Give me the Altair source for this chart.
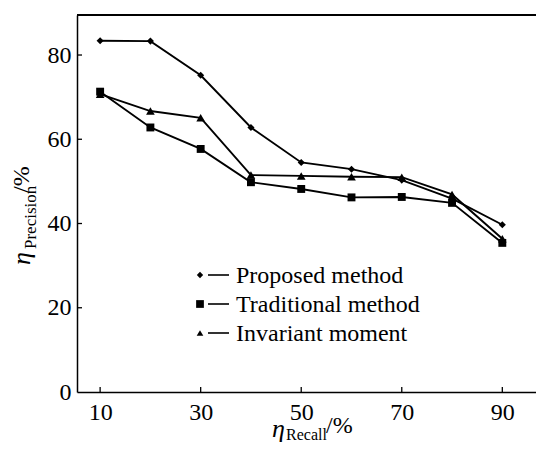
import altair as alt
import pandas as pd

recall = [10, 20, 30, 40, 50, 60, 70, 80, 90]
series_names = ["Proposed method", "Traditional method", "Invariant moment"]
proposed = [83.4, 83.3, 75.2, 62.8, 54.5, 52.9, 50.3, 45.9, 39.7]
traditional = [71.3, 62.8, 57.7, 49.8, 48.2, 46.2, 46.3, 44.9, 35.4]
invariant = [70.7, 66.7, 65.1, 51.5, 51.3, 51.1, 51.0, 46.9, 36.4]
x_ticks = [10, 30, 50, 70, 90]
y_ticks = [0, 20, 40, 60, 80]

rows = []
for name, vals in zip(series_names, [proposed, traditional, invariant]):
    for r, v in zip(recall, vals):
        rows.append({"series": name, "recall": r, "precision": v})
df = pd.DataFrame(rows)

W, H = 459, 377
FONT = "Liberation Serif"
shapes = ["diamond", "square", "triangle-up"]
sizes = [50, 75, 55]

xs = alt.Scale(domain=[5.4, 96.7], nice=False, zero=False)
ys = alt.Scale(domain=[0, 89.5], nice=False)

base = alt.Chart(df)

lines = base.mark_line(color="black", strokeWidth=1.9).encode(
    x=alt.X("recall:Q", scale=xs,
            axis=alt.Axis(values=x_ticks, ticks=False, tickSize=0, grid=False, title=None,
                          labelFont=FONT, labelFontSize=24, labelColor="black",
                          labelPadding=8, domainColor="black", domainWidth=1.5)),
    y=alt.Y("precision:Q", scale=ys,
            axis=alt.Axis(values=y_ticks, ticks=False, tickSize=0, grid=False, title=None,
                          labelFont=FONT, labelFontSize=24, labelColor="black",
                          labelPadding=6, domainColor="black", domainWidth=1.5)),
    detail="series:N",
)

points = base.mark_point(filled=True, color="black", opacity=1).encode(
    x=alt.X("recall:Q", scale=xs),
    y=alt.Y("precision:Q", scale=ys),
    shape=alt.Shape("series:N", scale=alt.Scale(domain=series_names, range=shapes), legend=None),
    size=alt.Size("series:N", scale=alt.Scale(domain=series_names, range=sizes), legend=None),
)

xtick_df = pd.DataFrame({"v": x_ticks})
ytick_df = pd.DataFrame({"v": y_ticks[1:]})
xticks = alt.Chart(xtick_df).mark_rule(color="black", strokeWidth=1.3).encode(
    x=alt.X("v:Q", scale=xs), y=alt.value(H), y2=alt.value(H - 5))
yticks = alt.Chart(ytick_df).mark_rule(color="black", strokeWidth=1.3).encode(
    y=alt.Y("v:Q", scale=ys), x=alt.value(0), x2=alt.value(5))

top_border = alt.Chart(xtick_df).mark_rule(color="black", strokeWidth=1.5).encode(
    x=alt.value(0), x2=alt.value(W + 20), y=alt.value(0))

layers = [lines, points, xticks, yticks, top_border]

# legend
for i, name in enumerate(series_names):
    ly = 260 + 29 * i
    ldf = pd.DataFrame({"series": [name]})
    layers.append(alt.Chart(ldf).mark_point(filled=True, color="black", opacity=1,
                                            shape=shapes[i], size=sizes[i] * 0.8).encode(
        x=alt.value(123), y=alt.value(ly)))
    layers.append(alt.Chart(ldf).mark_rule(color="black", strokeWidth=1.6).encode(
        x=alt.value(131), x2=alt.value(152), y=alt.value(ly)))
    layers.append(alt.Chart(ldf).mark_text(align="left", baseline="middle", font=FONT,
                                           fontSize=24, color="black").encode(
        x=alt.value(159), y=alt.value(ly + 1), text="series:N"))

def txt(s, x, y, size, style="normal", angle=0):
    d = pd.DataFrame({"t": [s]})
    kw = dict(align="left", baseline="alphabetic", font=FONT, fontSize=size,
              color="black", fontStyle=style)
    if angle:
        kw["angle"] = angle
    return alt.Chart(d).mark_text(**kw).encode(x=alt.value(x), y=alt.value(y), text="t:N")

# x title
layers += [txt("η", 195, 422, 26, "italic"),
           txt("Recall", 209, 425, 16),
           txt("/%", 249, 418, 24)]
# y title (rotated)
layers += [txt("η", -47, 250, 26, "italic", 270),
           txt("Precision", -41, 234, 17, angle=270),
           txt("/%", -48, 178, 24, angle=270)]

chart = alt.layer(*layers).properties(
    width=W, height=H,
    autosize=alt.AutoSizeParams(type="none"),
    padding={"left": 69, "top": 7, "right": 0, "bottom": 52},
).configure_view(stroke=None)

chart.save("out.html", embed_options={"renderer": "svg", "actions": False})
